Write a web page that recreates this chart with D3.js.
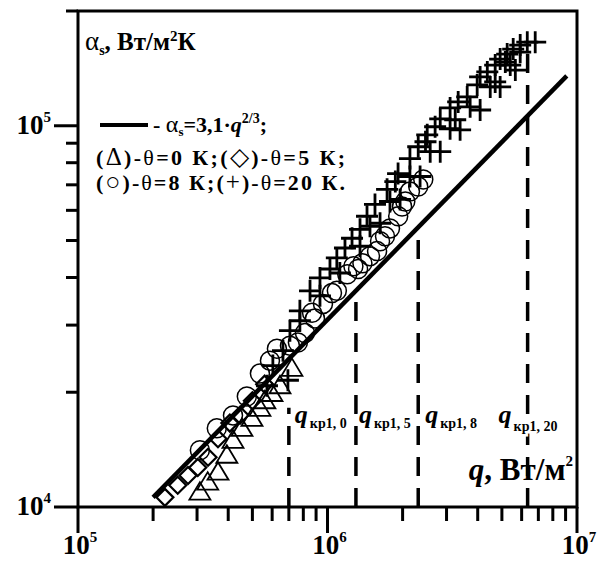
<!DOCTYPE html>
<html>
<head>
<meta charset="utf-8">
<script src="https://cdn.jsdelivr.net/npm/d3@7"></script>
<style>
  body { margin: 0; background: #fff; }
  svg text { font-family: "Liberation Serif", "Times New Roman", serif; font-weight: bold; fill: #000; }
</style>
</head>
<body>
<div id="chart"></div>
<script>
// heat transfer coefficient vs heat flux, log-log
const X_MAJOR = [1e5, 1e6, 1e7];
const X_MINOR = [2e5, 3e5, 4e5, 5e5, 6e5, 7e5, 8e5, 9e5, 2e6, 3e6, 4e6, 5e6, 6e6, 7e6, 8e6, 9e6];
const Y_MAJOR = [1e4, 1e5];
const Y_MINOR = [2e4, 3e4, 4e4, 5e4, 6e4, 7e4, 8e4, 9e4, 2e5];
const X_EXP = ["5", "6", "7"];
const Y_EXP = ["4", "5"];

// theta = 0 K (triangles)
const theta0 = [
  [3.08e5, 1.094e4], [3.31e5, 1.162e4], [3.64e5, 1.234e4], [3.95e5, 1.367e4],
  [4.18e5, 1.496e4], [4.54e5, 1.607e4], [4.98e5, 1.707e4], [5.36e5, 1.814e4],
  [5.61e5, 1.90e4], [5.99e5, 1.985e4], [6.45e5, 2.08e4], [7.2e5, 2.31e4]
];
// theta = 5 K (diamonds)
const theta5 = [
  [2.23e5, 1.06e4], [2.51e5, 1.14e4], [2.76e5, 1.21e4], [3.02e5, 1.27e4],
  [3.32e5, 1.35e4], [3.64e5, 1.51e4], [4.06e5, 1.66e4], [4.46e5, 1.74e4],
  [5.0e5, 1.9e4], [5.6e5, 2.1e4]
];
// theta = 8 K (circles)
const theta8 = [
  [3.08e5, 1.409e4], [3.60e5, 1.608e4], [4.18e5, 1.739e4], [4.75e5, 1.949e4],
  [5.36e5, 2.238e4], [5.88e5, 2.42e4], [6.27e5, 2.60e4], [7.07e5, 2.65e4],
  [7.61e5, 2.70e4], [8.12e5, 2.86e4], [8.67e5, 3.23e4], [8.91e5, 3.12e4],
  [9.59e5, 3.41e4], [1.042e6, 3.64e4], [1.09e6, 3.69e4], [1.20e6, 4.08e4],
  [1.27e6, 4.28e4], [1.326e6, 4.21e4], [1.38e6, 4.36e4], [1.48e6, 4.55e4],
  [1.58e6, 4.69e4], [1.624e6, 4.98e4], [1.70e6, 5.13e4], [1.78e6, 5.38e4],
  [1.92e6, 5.79e4], [1.99e6, 6.14e4], [2.05e6, 6.33e4], [2.14e6, 6.72e4],
  [2.31e6, 6.93e4], [2.42e6, 7.23e4]
];
// theta = 20 K (pluses)
const theta20 = [
  [5.72e5, 2.08e4], [6.04e5, 2.35e4], [6.63e5, 2.57e4], [6.94e5, 2.15e4],
  [7.07e5, 2.90e4], [7.75e5, 3.27e4], [7.75e5, 3.08e4], [8.51e5, 3.69e4],
  [9.33e5, 3.99e4], [9.33e5, 3.58e4], [1.023e6, 4.21e4], [1.09e6, 4.50e4],
  [1.121e6, 4.11e4], [1.175e6, 4.78e4], [1.254e6, 5.07e4], [1.35e6, 5.35e4],
  [1.35e6, 4.83e4], [1.44e6, 5.79e4], [1.48e6, 5.45e4], [1.55e6, 6.22e4],
  [1.624e6, 5.55e4], [1.733e6, 6.81e4], [1.78e6, 6.33e4], [1.87e6, 7.14e4],
  [1.918e6, 7.49e4], [1.954e6, 6.41e4], [2.14e6, 8.20e4], [2.14e6, 7.36e4],
  [2.31e6, 8.81e4], [2.35e6, 7.36e4], [2.47e6, 9.08e4], [2.51e6, 9.47e4],
  [2.58e6, 8.55e4], [2.70e6, 9.94e4], [2.83e6, 1.043e5], [2.83e6, 8.55e4],
  [3.10e6, 1.114e5], [3.10e6, 9.82e4], [3.25e6, 1.037e5], [3.34e6, 1.155e5],
  [3.40e6, 9.76e4], [3.63e6, 1.19e5], [3.73e6, 1.121e5], [3.98e6, 1.28e5],
  [4.09e6, 1.10e5], [4.09e6, 1.343e5], [4.37e6, 1.384e5], [4.49e6, 1.264e5],
  [4.70e6, 1.443e5], [4.70e6, 1.303e5], [4.92e6, 1.496e5], [4.92e6, 1.264e5],
  [5.16e6, 1.469e5], [5.25e6, 1.542e5], [5.40e6, 1.443e5], [5.55e6, 1.589e5],
  [5.66e6, 1.40e5], [5.92e6, 1.628e5], [5.92e6, 1.56e5], [6.32e6, 1.657e5],
  [6.80e6, 1.657e5]
];

// alpha_s = 3.1 q^(2/3)
const FIT_COEF = 3.1;
const FIT_POW = 2 / 3;
const FIT_Q = [2.0e5, 9.1e6];

// critical heat flux markers
const CRIT_Q = [7.0e5, 1.3e6, 2.31e6, 6.34e6];
const CRIT_TOP = [1.82e4, 3.69e4, 5.42e4, 1.62e5];
const CRIT_SUB = ["кр1, 0", "кр1, 5", "кр1, 8", "кр1, 20"];

(function () {
  const W = 608, H = 565;
  const margin = { top: 11, right: 31, bottom: 58, left: 78 };
  const iw = W - margin.left - margin.right;
  const ih = H - margin.top - margin.bottom;

  const svg = d3.select("#chart").append("svg").attr("width", W).attr("height", H);
  const g = svg.append("g").attr("transform", `translate(${margin.left},${margin.top})`);

  const x = d3.scaleLog().domain([1e5, 1e7]).range([0, iw]);
  const y = d3.scaleLog().domain([1e4, 2e5]).range([ih, 0]);

  // outward ticks, minor short / major long
  const ticks = g.append("g").attr("stroke", "#000").attr("stroke-width", 3);
  [[X_MINOR, 14], [X_MAJOR, 26]].forEach(([vals, len]) => {
    ticks.append("g").selectAll("line").data(vals).join("line")
      .attr("x1", (d) => x(d)).attr("x2", (d) => x(d))
      .attr("y1", ih).attr("y2", ih + len);
  });
  [[Y_MINOR, 12], [Y_MAJOR, 24]].forEach(([vals, len]) => {
    ticks.append("g").selectAll("line").data(vals).join("line")
      .attr("x1", 0).attr("x2", -len)
      .attr("y1", (d) => y(d)).attr("y2", (d) => y(d));
  });

  g.append("rect")
    .attr("width", iw).attr("height", ih)
    .attr("fill", "none").attr("stroke", "#000").attr("stroke-width", 3);

  // tick labels 10^n
  X_MAJOR.forEach((v, i) => {
    const t = g.append("text").attr("x", x(v) + 2).attr("y", ih + 47)
      .attr("text-anchor", "middle").style("font-size", "27px");
    t.append("tspan").text("10");
    t.append("tspan").attr("dy", -12).style("font-size", "15px").text(X_EXP[i]);
  });
  Y_MAJOR.forEach((v, i) => {
    const t = g.append("text").attr("x", -27).attr("y", y(v) + 8)
      .attr("text-anchor", "end").style("font-size", "27px");
    t.append("tspan").text("10");
    t.append("tspan").attr("dy", -12).style("font-size", "15px").text(Y_EXP[i]);
  });

  // axis titles
  const yt = g.append("text").attr("x", 7).attr("y", 39).style("font-size", "25px");
  yt.append("tspan").style("font-weight", "normal").style("font-size", "27px").text("α");
  yt.append("tspan").attr("dy", 5).style("font-size", "14px").text("s");
  yt.append("tspan").attr("dy", -5).text(", Вт/м");
  yt.append("tspan").attr("dy", -9).style("font-size", "15px").text("2");
  yt.append("tspan").attr("dy", 9).text("К");

  const xt = g.append("text").attr("x", iw - 4).attr("y", ih - 27)
    .attr("text-anchor", "end").style("font-size", "31px");
  xt.append("tspan").style("font-style", "italic").text("q");
  xt.append("tspan").text(", Вт/м");
  xt.append("tspan").attr("dy", -14).style("font-size", "15px").text("2");

  // legend
  g.append("line").attr("x1", 22).attr("x2", 70).attr("y1", 114).attr("y2", 114)
    .attr("stroke", "#000").attr("stroke-width", 4);
  const l1 = g.append("text").attr("x", 75).attr("y", 121).style("font-size", "22px");
  l1.append("tspan").text(" - ");
  l1.append("tspan").style("font-weight", "normal").style("font-size", "24px").text("α");
  l1.append("tspan").attr("dy", 4).style("font-size", "13px").text("s");
  l1.append("tspan").attr("dy", -4).text("=3,1·");
  l1.append("tspan").style("font-style", "italic").text("q");
  l1.append("tspan").attr("dy", -9).style("font-size", "14px").text("2/3");
  l1.append("tspan").attr("dy", 9).text(";");

  function legendLine(yy, parts, len) {
    const t = g.append("text").attr("x", 18).attr("y", yy).style("font-size", "22px")
      .attr("textLength", len).attr("lengthAdjust", "spacing");
    parts.forEach(([txt, kind]) => {
      const sp = t.append("tspan").text(txt);
      if (kind) sp.style("font-weight", "normal");
      if (kind === 2) sp.style("font-size", "25px");
    });
  }
  legendLine(154, [["("], ["Δ", 2], [")-"], ["θ", 1], ["=0 К;("], ["◇", 2], [")-"], ["θ", 1], ["=5 К;"]], 249);
  legendLine(179, [["("], ["○", 2], [")-"], ["θ", 1], ["=8 К;("], ["+", 2], [")-"], ["θ", 1], ["=20 К."]], 249);

  // critical flux dashed lines
  CRIT_Q.forEach((q, i) => {
    g.append("line")
      .attr("x1", x(q)).attr("x2", x(q))
      .attr("y1", ih).attr("y2", y(CRIT_TOP[i]))
      .attr("stroke", "#000").attr("stroke-width", 3.5)
      .attr("stroke-dasharray", "19,12");
  });
  const labelDx = [6, 3, 7, -29];
  CRIT_Q.forEach((q, i) => {
    const t = g.append("text").attr("x", x(q) + labelDx[i]).attr("y", 412)
      .style("font-size", "26px")
      .attr("stroke", "#fff").attr("stroke-width", 5).attr("paint-order", "stroke");
    t.append("tspan").style("font-style", "italic").text("q");
    t.append("tspan").attr("dy", i === 3 ? 8 : 5).attr("dx", 2).style("font-size", "14px").text(CRIT_SUB[i]);
  });

  // markers
  const marks = g.append("g").attr("fill", "none").attr("stroke", "#000");
  marks.selectAll("path.tri").data(theta0).join("path")
    .attr("class", "tri")
    .attr("d", "M0,-10L10.5,7.5L-10.5,7.5Z")
    .attr("stroke-width", 1.8)
    .attr("transform", (d) => `translate(${x(d[0])},${y(d[1])})`);
  marks.selectAll("path.dia").data(theta5).join("path")
    .attr("class", "dia")
    .attr("d", "M0,-8.5L8.5,0L0,8.5L-8.5,0Z")
    .attr("stroke-width", 2.2)
    .attr("transform", (d) => `translate(${x(d[0])},${y(d[1])})`);
  marks.selectAll("circle").data(theta8).join("circle")
    .attr("cx", (d) => x(d[0])).attr("cy", (d) => y(d[1])).attr("r", 9.5)
    .attr("stroke-width", 1.5);
  marks.selectAll("path.plus").data(theta20).join("path")
    .attr("class", "plus")
    .attr("d", "M-11,0H11M0,-11V11")
    .attr("stroke-width", 2.8)
    .attr("transform", (d) => `translate(${x(d[0])},${y(d[1])})`);

  // fit line
  const line = d3.line().x((d) => x(d)).y((d) => y(FIT_COEF * Math.pow(d, FIT_POW)));
  g.append("path").datum(FIT_Q).attr("d", line)
    .attr("fill", "none").attr("stroke", "#000").attr("stroke-width", 4.5);
})();
</script>
</body>
</html>
